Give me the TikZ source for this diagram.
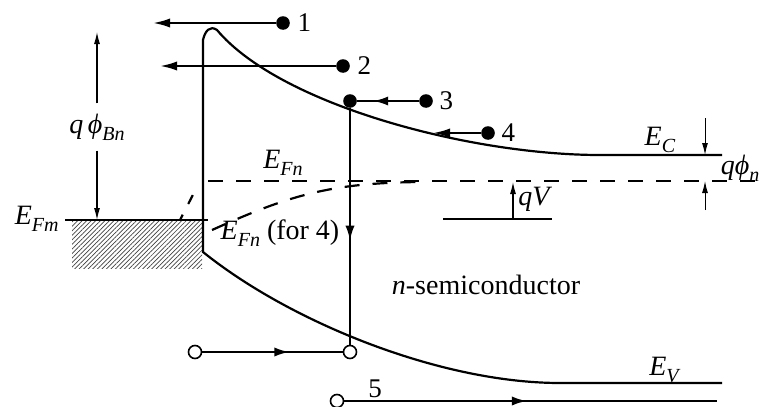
\documentclass[tikz,border=0pt]{standalone}
\usepackage{fontspec}
\setmainfont{Liberation Serif}
\usetikzlibrary{arrows.meta,positioning,patterns.meta,decorations.markings}
\newcommand{\lv}[2]{\textit{#1}\raisebox{-0.55ex}{\fontsize{10}{10}\selectfont\textit{#2}}}
\tikzset{
 band/.style={line width=1.1pt},
 fermi/.style={line width=1.1pt,dash pattern=on 7.5pt off 6.5pt},
 elec/.style={circle,fill=black,inner sep=0pt,minimum size=6.8pt},
 hole/.style={circle,draw=black,fill=white,line width=0.8pt,inner sep=0pt,minimum size=6.5pt},
 flow/.style={line width=1.1pt,-{Latex[length=8.5pt,width=4.6pt]}},
 dim/.style={line width=0.6pt,-{Latex[length=6pt,width=3pt]}},
 midtip/.style={line width=1.1pt,postaction={decorate},
   decoration={markings,mark=at position #1 with {\arrow{Latex[length=7.5pt,width=4.6pt]}}}},
 lbl/.style={font=\fontsize{14}{16}\selectfont,inner sep=1pt},
 num/.style={font=\fontsize{13.5}{15}\selectfont,inner sep=1pt}
}
\begin{document}
\begin{tikzpicture}[x=0.5pt,y=-0.5pt]
\useasboundingbox (0,0) rectangle (761,407);
% metal side
\fill[pattern={Lines[angle=45,distance=1.6pt,line width=0.35pt]},pattern color=black!75] (72,221) rectangle (202,268);
\draw[line width=0.8pt] (65,220) -- (208,220);
\node[lbl,anchor=east] (efm) at (61,219) {\lv{E}{Fm}};
% barrier height
\node[lbl,fill=white,inner ysep=5pt] (qpb) at (97,127) {\textit{q}\,\lv{ϕ}{Bn}};
\coordinate (pbtop) at (97,32);
\coordinate (pbbot) at (97,220);
\draw[dim] (qpb) -- (pbtop);
\draw[dim] (qpb) -- (pbbot);
% bands
\draw[band] (722,383) -- (560,383) .. controls (440,383) and (290,322) .. (203,252)
  -- (203,40) .. controls (205,31) and (210,25) .. (217,30)
  .. controls (280,105) and (470,155) .. (600,155) -- (722,155);
% quasi Fermi levels
\draw[fermi] (208,181) -- (757,181);
\draw[fermi] (212,230) .. controls (290,195) and (330,183) .. (420,182);
\draw[fermi,dash pattern=on 3pt off 6pt on 5pt off 10pt] (180,220) -- (198,185);
\node[lbl] (efn) at (283,163) {\lv{E}{Fn}};
\node[lbl] (efn4) at (280,233) {\lv{E}{Fn} (for 4)};
\node[lbl] (ec) at (660,140) {\lv{E}{C}};
\node[lbl] (ev) at (665,370) {\lv{E}{V}};
\node[lbl] (semi) at (486,285) {\textit{n}-semiconductor};
% q phi_n
\coordinate (pntop) at (705,118);
\coordinate (pnc) at (705,155);
\coordinate (pnbot) at (705,210);
\coordinate (pnf) at (705,181);
\draw[dim,line width=0.5pt] (pntop) -- (pnc);
\draw[dim,line width=0.5pt] (pnbot) -- (pnf);
\node[lbl] (qpn) at (740,168) {\lv{qϕ}{n}};
% qV
\coordinate (vl) at (443,219);
\coordinate (vr) at (552,219);
\coordinate (vb) at (513,219);
\coordinate (vt) at (513,182);
\draw[line width=0.6pt] (vl) -- (vr);
\draw[dim] (vb) -- (vt);
\node[lbl,anchor=west] (qv) at (516,199) {\textit{qV}};
% electrons 1-4
\node[elec] (e1) at (283,23) {};
\coordinate (t1) at (153,23);
\draw[flow] (e1) -- (t1);
\node[num,right=2.5pt of e1] {1};
\node[elec] (e2) at (343,66) {};
\coordinate (t2) at (160,66);
\draw[flow] (e2) -- (t2);
\node[num,right=2.5pt of e2] {2};
\node[elec] (e3) at (426,101) {};
\node[elec] (e3in) at (350,101) {};
\draw[midtip=0.74] (e3) -- (e3in);
\node[num,right=2pt of e3] {3};
\node[elec] (e4) at (488,133) {};
\coordinate (t4) at (433,133);
\draw[flow] (e4) -- (t4);
\node[num,right=2pt of e4] {4};
% holes
\node[hole] (h1) at (195,352) {};
\node[hole] (h2) at (350,352) {};
\draw[midtip=0.56] (e3in) -- (h2);
\draw[midtip=0.62] (h1) -- (h2);
\node[hole] (h5) at (337,401) {};
\coordinate (t5) at (717,401);
\draw[midtip=0.49] (h5) -- (t5);
\node[num] at (375,389) {5};
\end{tikzpicture}
\end{document}
